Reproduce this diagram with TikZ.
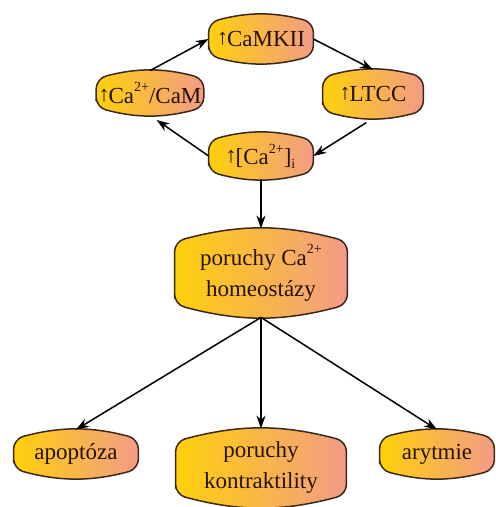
\documentclass[tikz,border=0pt]{standalone}
\usepackage{fontspec}
\setmainfont{Liberation Serif}
\usetikzlibrary{arrows.meta,backgrounds,calc}
\definecolor{boxyellow}{RGB}{255,208,10}
\definecolor{boxsalmon}{RGB}{242,156,135}
\definecolor{boxline}{RGB}{60,40,25}
\definecolor{boxtext}{RGB}{40,18,6}
\tikzset{
  cabox/.style={inner sep=1pt,align=center,text=boxtext,font=\fontsize{11.5}{15.5}\selectfont},
  cafill/.style={left color=boxyellow,right color=boxsalmon,draw=boxline,line width=0.75pt,rounded corners=5pt},
  link/.style={-{Stealth[length=6.5pt,width=4.5pt]},line width=0.75pt}
}
\newcommand{\caup}{\raisebox{0.2ex}{\fontsize{11}{11}\selectfont↑}\kern-0.5pt}
\newcommand{\catwo}{\raisebox{1.1ex}{\fontsize{7}{7}\selectfont 2+}}
\begin{document}
\begin{tikzpicture}[x=0.5pt,y=0.5pt]
\useasboundingbox (0,0) rectangle (496,507);
\node[cabox,minimum width=52pt,minimum height=24pt] (camkii) at (261,468) {\caup CaMKII};
\node[cabox,minimum width=53pt,minimum height=22pt] (cacam) at (150,414) {\caup Ca\catwo/CaM};
\node[cabox,minimum width=50pt,minimum height=24pt] (ltcc) at (373,413) {\caup LTCC};
\node[cabox,minimum width=52pt,minimum height=23pt] (cai) at (261,351) {\caup[Ca\catwo]\textsubscript{\fontsize{7}{7}\selectfont i}};
\node[cabox,minimum width=86pt,minimum height=44pt] (homeo) at (261,234) {poruchy Ca\catwo\\homeostázy};
\node[cabox,minimum width=62pt,minimum height=24pt] (apop) at (76,53) {apoptóza};
\node[cabox,minimum width=85pt,minimum height=39pt] (kontr) at (261,39) {poruchy\\kontraktility};
\node[cabox,minimum width=57pt,minimum height=24pt] (aryt) at (437,53) {arytmie};
\begin{scope}[on background layer]
\foreach \b in {camkii,cacam,ltcc,cai,homeo,apop,kontr,aryt}
  \shade[cafill] let \p1=(\b.north west), \p2=(\b.south east), \n1={0.075*(\x2-\x1)} in
    (\x1,{\y2+\n1*1pt}) -- (\x1,{\y1-\n1*1pt}) to[bend left=15] (\x2,{\y1-\n1*1pt})
    -- (\x2,{\y2+\n1*1pt}) to[bend left=15] cycle;
\end{scope}
\draw[link] (cacam.north) -- (camkii.west);
\draw[link] (camkii.east) -- (ltcc.north);
\draw[link,shorten <=4pt] (ltcc.south) -- (cai.east);
\draw[link,shorten >=4pt] (cai.west) -- (cacam.south);
\draw[link] (cai.south) -- (homeo.north);
\foreach \t in {apop,kontr,aryt} \draw[link] (homeo.south) -- (\t.north);
\end{tikzpicture}
\end{document}
